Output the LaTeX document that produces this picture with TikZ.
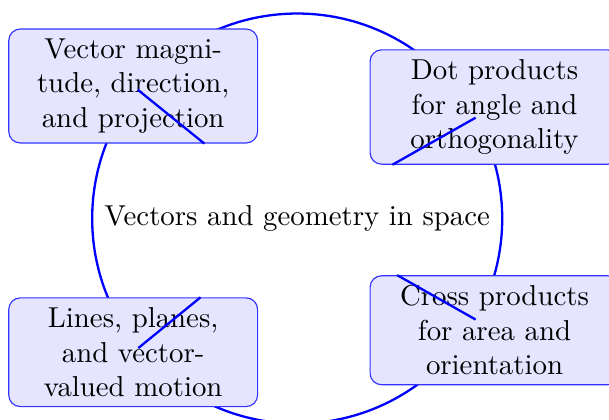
\documentclass[tikz,border=0pt]{standalone}
\usetikzlibrary{calc}
\begin{document}
\begin{tikzpicture}[topic/.style={draw=blue!80, fill=blue!10, rounded corners, text width=2.8cm, align=center}]
\useasboundingbox (-3.624,-2.445) rectangle (3.802,2.665);
\draw[blue, thick] (0,0) circle (2.5cm);
\node (core) at (0,0) {Vectors and geometry in space};
\node[topic] (magnitude) at (-2.0,1.616) {Vector magnitude, direction, and projection};
\node[topic] (dot) at (2.406,1.36) {Dot products for angle and orthogonality};
\node[topic] (cross) at (2.406,-1.362) {Cross products for area and orientation};
\node[topic] (lines) at (-2.0,-1.63) {Lines, planes, and vector-valued motion};
\foreach \n in {magnitude, dot, cross, lines} {
 \draw[blue, thick] ($(core)!2.5cm!(\n)$) -- (\n);
}
	\end{tikzpicture}
\end{document}
